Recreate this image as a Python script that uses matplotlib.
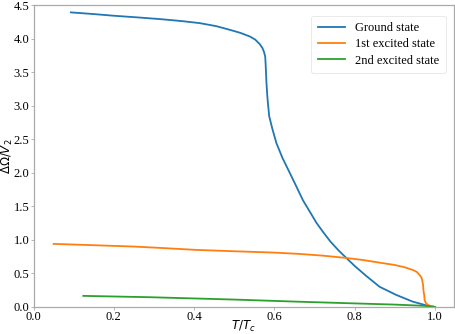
import matplotlib
matplotlib.use("Agg")
import matplotlib.pyplot as plt

ground_x = [0.093, 0.15, 0.2, 0.26, 0.315, 0.37, 0.414, 0.455, 0.489, 0.515, 0.539, 0.552,
            0.563, 0.570, 0.574, 0.577, 0.578, 0.579, 0.580, 0.582, 0.584, 0.587, 0.595,
            0.605, 0.62, 0.638, 0.655, 0.671, 0.688, 0.705, 0.722, 0.74, 0.76, 0.779,
            0.80, 0.829, 0.862, 0.903, 0.944, 0.965, 0.98, 0.99]
ground_y = [4.39, 4.365, 4.34, 4.315, 4.29, 4.26, 4.23, 4.185, 4.13, 4.085, 4.03, 3.985,
            3.92, 3.86, 3.80, 3.73, 3.62, 3.49, 3.35, 3.16, 3.02, 2.84, 2.65,
            2.44, 2.22, 2.00, 1.79, 1.59, 1.42, 1.25, 1.11, 0.97, 0.84, 0.73,
            0.61, 0.46, 0.30, 0.18, 0.08, 0.045, 0.02, 0.0]

first_x = [0.05, 0.15, 0.25, 0.315, 0.406, 0.5, 0.6, 0.663, 0.72, 0.779, 0.82, 0.862,
           0.9, 0.925, 0.945, 0.955, 0.961, 0.966, 0.968, 0.970, 0.971, 0.973, 0.974,
           0.977, 0.981, 0.986, 0.992, 0.999]
first_y = [0.94, 0.92, 0.90, 0.88, 0.85, 0.83, 0.81, 0.79, 0.765, 0.73, 0.70, 0.66,
           0.625, 0.59, 0.55, 0.52, 0.48, 0.44, 0.40, 0.33, 0.25, 0.17, 0.10,
           0.06, 0.035, 0.02, 0.008, 0.0]

second_x = [0.124, 0.29, 0.5, 0.65, 0.787, 0.9, 0.96, 0.995, 1.0]
second_y = [0.165, 0.145, 0.11, 0.08, 0.055, 0.035, 0.02, 0.008, 0.0]

labels = ["Ground state", "1st excited state", "2nd excited state"]
xticks = [0.0, 0.2, 0.4, 0.6, 0.8, 1.0]
yticks = [0.0, 0.5, 1.0, 1.5, 2.0, 2.5, 3.0, 3.5, 4.0, 4.5]

fig = plt.figure(figsize=(4.56, 3.34), dpi=100)
ax = fig.add_axes([0.0735, 0.081, 0.922, 0.904])

lw = 1.3
ax.plot(ground_x, ground_y, color="#1f77b4", lw=lw, label=labels[0])
ax.plot(first_x, first_y, color="#ff7f0e", lw=lw, label=labels[1])
ax.plot(second_x, second_y, color="#2ca02c", lw=lw, label=labels[2])

ax.set_xlim(0, 1.047)
ax.set_ylim(0, 4.5)
ax.set_xticks(xticks)
ax.set_yticks(yticks)
ax.set_xticklabels([f"{v:.1f}" for v in xticks], fontfamily="Liberation Serif", fontsize=9)
ax.set_yticklabels([f"{v:.1f}" for v in yticks], fontfamily="Liberation Serif", fontsize=9)
ax.tick_params(length=2, width=0.6, color="#aaaaaa", pad=1)
for s in ax.spines.values():
    s.set_color("#aaaaaa")
    s.set_linewidth(0.9)

ax.set_xlabel(r"$T/T_c$", fontsize=8.5)
ax.set_ylabel(r"$\Delta\Omega/V_2$", fontsize=8.5)
ax.xaxis.set_label_coords(0.5, -0.038)
ax.yaxis.set_label_coords(-0.045, 0.5)

leg = ax.legend(loc="upper right", prop={"family": "Liberation Serif", "size": 9},
                frameon=True, fancybox=True, handlelength=2.2, borderpad=0.5,
                labelspacing=0.35, bbox_to_anchor=(0.995, 0.985))
leg.get_frame().set_edgecolor("#e0e0e0")
leg.get_frame().set_linewidth(0.6)

fig.savefig("out.png", dpi=100)
